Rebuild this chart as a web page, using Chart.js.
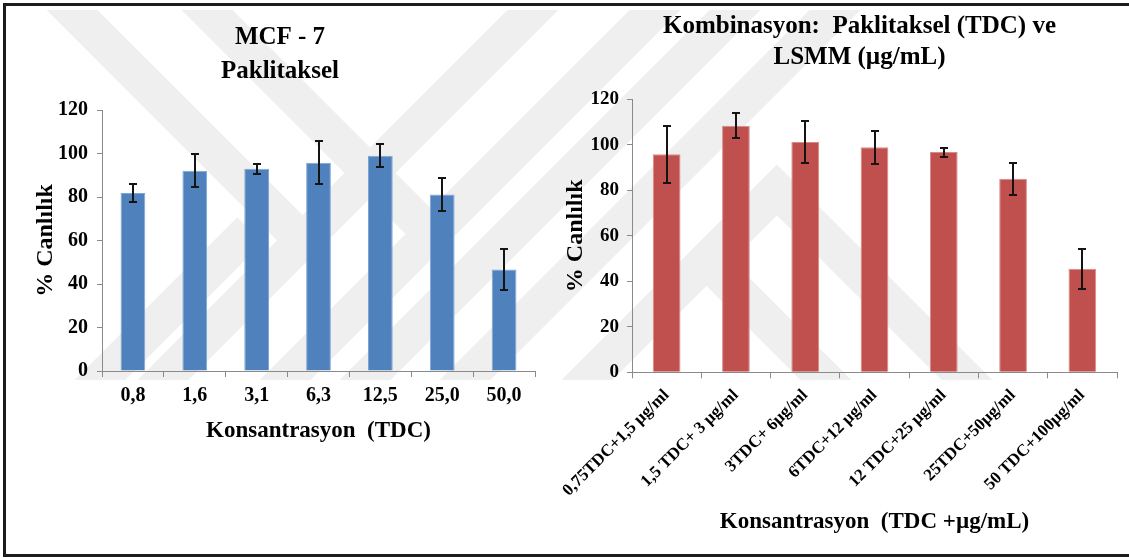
<!DOCTYPE html>
<html lang="tr">
<head>
<meta charset="utf-8">
<title>MCF-7 Paklitaksel</title>
<script src="https://cdn.jsdelivr.net/npm/chart.js@4.4.1/dist/chart.umd.min.js"></script>
<style>
  html, body { margin: 0; padding: 0; background: #fff; overflow: hidden; }
  #page { position: relative; width: 1129px; height: 558px; overflow: hidden; }
  #wm { position: absolute; left: 0; top: 0; z-index: 0; }
  #frame {
    position: absolute; left: 3px; top: 3px; width: 1200px; height: 554px;
    box-sizing: border-box; border: 3px solid #1c1c1c; z-index: 3;
  }
  canvas { position: absolute; z-index: 2; }
  #leftChart  { left: 10px;  top: 0; }
  #rightChart { left: 550px; top: 0; }
</style>
</head>
<body>
<div id="page">
  <!-- faint background stamp -->
  <svg id="wm" width="1129" height="558">
    <defs><clipPath id="wmClip"><rect x="0" y="10" width="1129" height="370"/></clipPath></defs>
    <g clip-path="url(#wmClip)" stroke="#efefef" stroke-width="36" fill="none" stroke-linejoin="miter">
      <polyline points="52,-10 302,240"/>
      <polyline points="187,-10 431,234"/>
      <polyline points="143,400 553,-10"/>
      <polyline points="265,400 675,-10"/>
      <polyline points="345,400 755,-10"/>
      <polyline points="445,400 855,-10"/>
      <polyline points="80,400 250,230"/>
      <polyline points="567,400 777,190 987,400"/>
      <polyline points="703,257 846,400"/>
    </g>
  </svg>
  <canvas id="leftChart" width="540" height="460"></canvas>
  <canvas id="rightChart" width="619" height="558"></canvas>
  <div id="frame"></div>
</div>

<script>
// ═══════════════════════════════════════════════════════
// MCF-7 viability – Paklitaksel alone vs. combination
// ═══════════════════════════════════════════════════════

const yTicks = [0, 20, 40, 60, 80, 100, 120];

// Paklitaksel alone (TDC)
const singleLabels = ['0,8', '1,6', '3,1', '6,3', '12,5', '25,0', '50,0'];
const singleValues = [81.8, 92.1, 93.0, 95.8, 99.0, 81.2, 46.7];
const singleErrors = [4.3, 7.6, 2.2, 9.9, 5.4, 7.6, 9.4];

// Paklitaksel (TDC) + LSMM (µg/mL)
const comboLabels = [
  '0,75TDC+1,5 µg/ml', '1,5 TDC+ 3 µg/ml', '3TDC+ 6µg/ml', '6TDC+12 µg/ml',
  '12 TDC+25 µg/ml', '25TDC+50µg/ml', '50 TDC+100µg/ml'
];
const comboValues = [95.8, 108.4, 101.2, 98.9, 96.8, 85.1, 45.5];
const comboErrors = [12.5, 5.5, 9.1, 7.2, 2.0, 7.1, 8.7];

const SERIF = "'Liberation Serif', 'Times New Roman', serif";
const AXIS_GREY = '#8a8a8a';

// ─────────────────────────────────────────────────────
// ERROR BARS (± SD, drawn through the y scale)
// ─────────────────────────────────────────────────────
const errorBars = {
  id: 'errorBars',
  afterDatasetsDraw(chart) {
    const { ctx } = chart;
    const y = chart.scales.y;
    const ds = chart.data.datasets[0];
    const meta = chart.getDatasetMeta(0);
    ctx.save();
    ctx.strokeStyle = '#141414';
    ctx.lineWidth = 2;
    meta.data.forEach((bar, i) => {
      const top = Math.round(y.getPixelForValue(ds.data[i] + ds.errors[i]));
      const bot = Math.round(y.getPixelForValue(ds.data[i] - ds.errors[i]));
      const x = Math.round(bar.x);
      ctx.beginPath();
      ctx.moveTo(x, top); ctx.lineTo(x, bot);
      ctx.moveTo(x - 4, top); ctx.lineTo(x + 4, top);
      ctx.moveTo(x - 4, bot); ctx.lineTo(x + 4, bot);
      ctx.stroke();
    });
    ctx.restore();
  }
};

// ─────────────────────────────────────────────────────
// TWO-LINE HEADING (centred on a fixed x, not on the plot)
// ─────────────────────────────────────────────────────
const heading = {
  id: 'heading',
  afterDraw(chart, args, opts) {
    const { ctx } = chart;
    ctx.save();
    ctx.font = `bold ${opts.size}px ${SERIF}`;
    ctx.fillStyle = '#000';
    ctx.textAlign = 'center';
    ctx.textBaseline = 'middle';
    opts.lines.forEach((line, i) => ctx.fillText(line, opts.x, opts.y + i * opts.gap));
    ctx.restore();
  }
};

// ─────────────────────────────────────────────────────
// SHARED BAR CHART BUILDER
// ─────────────────────────────────────────────────────
function makeBarChart(canvasId, cfg) {
  const ctx = document.getElementById(canvasId).getContext('2d');
  return new Chart(ctx, {
    type: 'bar',
    data: {
      labels: cfg.labels,
      datasets: [{
        data: cfg.values,
        errors: cfg.errors,
        backgroundColor: cfg.fill,
        borderColor: cfg.edge,
        borderWidth: 1,
        categoryPercentage: 0.8,
        barPercentage: 0.5
      }]
    },
    options: {
      responsive: false,
      devicePixelRatio: 1,
      animation: false,
      layout: { padding: { left: 0, right: cfg.padRight, top: cfg.padTop, bottom: 0 } },
      plugins: {
        legend: { display: false },
        tooltip: { enabled: false },
        title: { display: false },
        heading: cfg.heading
      },
      scales: {
        x: {
          grid: { drawOnChartArea: false, drawTicks: true, tickLength: 6, color: AXIS_GREY, offset: true },
          border: { display: true, color: AXIS_GREY, width: 1 },
          ticks: {
            color: '#000',
            font: { family: SERIF, size: cfg.xTickSize, weight: 'bold' },
            padding: cfg.xTickPad,
            autoSkip: false,
            minRotation: cfg.rotation,
            maxRotation: cfg.rotation
          },
          title: {
            display: true,
            text: cfg.xTitle,
            color: '#000',
            font: { family: SERIF, size: 23, weight: 'bold' },
            padding: { top: 0, bottom: cfg.xTitlePad }
          },
          afterFit: (axis) => { axis.height = cfg.xHeight; }
        },
        y: {
          min: 0,
          max: 120,
          afterBuildTicks: (axis) => { axis.ticks = yTicks.map(v => ({ value: v })); },
          grid: { drawOnChartArea: false, drawTicks: true, tickLength: 5, color: AXIS_GREY },
          border: { display: true, color: AXIS_GREY, width: 1 },
          ticks: {
            color: '#000',
            font: { family: SERIF, size: cfg.yTickSize, weight: 'bold' },
            padding: cfg.yTickPad
          },
          title: {
            display: true,
            text: '% Canlılık',
            color: '#000',
            font: { family: SERIF, size: 24, weight: 'bold' },
            padding: { top: cfg.yTitlePad, bottom: 0 }
          },
          afterFit: (axis) => { axis.width = cfg.yWidth; }
        }
      }
    },
    plugins: [errorBars, heading]
  });
}

makeBarChart('leftChart', {
  labels: singleLabels,
  values: singleValues,
  errors: singleErrors,
  fill: '#4f81bd',
  edge: '#7fa5d6',
  heading: { lines: ['MCF - 7', 'Paklitaksel'], x: 270, y: 38, gap: 34, size: 25 },
  padTop: 110,
  padRight: 15,
  rotation: 0,
  xTickSize: 20,
  xTickPad: 7,
  xTitle: 'Konsantrasyon  (TDC)',
  xTitlePad: 15,
  xHeight: 89,
  yTickSize: 20,
  yTickPad: 9,
  yTitlePad: 21,
  yWidth: 92
});

makeBarChart('rightChart', {
  labels: comboLabels,
  values: comboValues,
  errors: comboErrors,
  fill: '#c0504d',
  edge: '#d98a88',
  heading: { lines: ['Kombinasyon:  Paklitaksel (TDC) ve', 'LSMM (µg/mL)'], x: 309.5, y: 27, gap: 31, size: 25 },
  padTop: 99.3,
  padRight: 52,
  rotation: 45,
  xTickSize: 17,
  xTickPad: 7,
  xTitle: 'Konsantrasyon  (TDC +µg/mL)',
  xTitlePad: 22.5,
  xHeight: 185.7,
  yTickSize: 19,
  yTickPad: 8,
  yTitlePad: 11,
  yWidth: 82
});
</script>
</body>
</html>
